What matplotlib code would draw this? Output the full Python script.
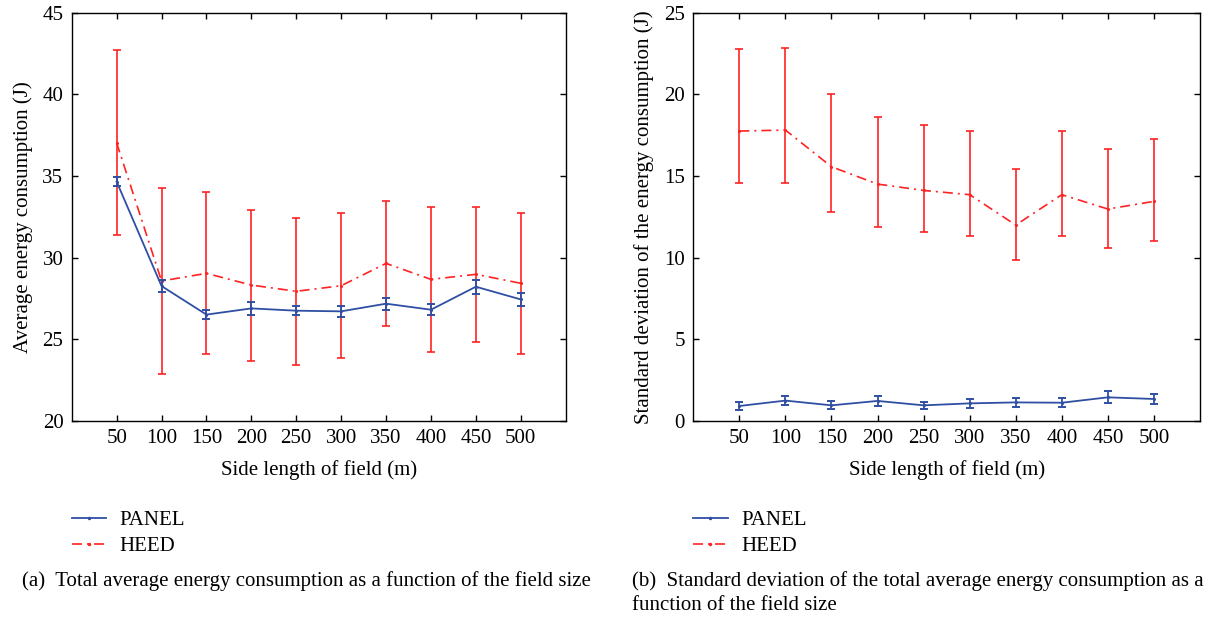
import matplotlib
matplotlib.use("Agg")
import matplotlib.pyplot as plt
from matplotlib.lines import Line2D

plt.rcParams['font.family'] = ['Liberation Serif', 'DejaVu Serif']

field_size = [50, 100, 150, 200, 250, 300, 350, 400, 450, 500]
x_ticks = [50, 100, 150, 200, 250, 300, 350, 400, 450, 500]

# (a) average energy consumption (symmetric error)
panel_avg = [34.65, 28.25, 26.5, 26.88, 26.74, 26.70, 27.17, 26.8, 28.21, 27.43]
panel_avg_err = [0.29, 0.39, 0.28, 0.38, 0.29, 0.34, 0.37, 0.34, 0.44, 0.41]
heed_avg = [37.03, 28.56, 29.03, 28.31, 27.93, 28.27, 29.64, 28.66, 28.97, 28.42]
heed_avg_err = [5.67, 5.69, 4.97, 4.63, 4.52, 4.45, 3.83, 4.43, 4.15, 4.31]

# (b) standard deviation of energy consumption
panel_std = [0.90, 1.23, 0.94, 1.21, 0.94, 1.06, 1.12, 1.10, 1.43, 1.33]
panel_std_err = [0.25, 0.30, 0.25, 0.33, 0.23, 0.28, 0.29, 0.29, 0.36, 0.33]
heed_std = [17.75, 17.81, 15.56, 14.50, 14.11, 13.85, 11.99, 13.85, 12.97, 13.44]
heed_std_low = [14.54, 14.58, 12.79, 11.87, 11.56, 11.34, 9.82, 11.34, 10.60, 11.03]
heed_std_high = [22.79, 22.86, 20.00, 18.61, 18.14, 17.77, 15.40, 17.77, 16.65, 17.28]

BLUE = '#2f4fa3'
RED = '#ff2222'
DASHDOT = (0, (6, 3, 1.2, 3))
FS = 15

fig = plt.figure(figsize=(12.26, 6.19), dpi=100)
ax1 = fig.add_axes([0.0585, 0.3204, 0.4029, 0.659])
ax2 = fig.add_axes([0.5655, 0.3204, 0.4133, 0.659])

def draw(ax, pv, pe, hv, he, ylim, yticks, ylabel):
    ax.errorbar(field_size, hv, yerr=he, color=RED, lw=1.2, ls=DASHDOT,
                capsize=3, capthick=1.2, elinewidth=1.2, marker='.', markersize=2.5, zorder=2)
    ax.errorbar(field_size, pv, yerr=pe, color=BLUE, lw=1.3, ls='-',
                capsize=3, capthick=1.4, elinewidth=1.3, marker='.', markersize=2.5, zorder=3)
    ax.set_xlim(0, 550)
    ax.set_ylim(*ylim)
    ax.set_xticks(x_ticks)
    ax.set_yticks(yticks)
    ax.tick_params(direction='in', top=True, right=True, length=4, width=1,
                   labelsize=FS, pad=6)
    for s in ax.spines.values():
        s.set_linewidth(1.0)
    ax.set_xlabel('Side length of field (m)', fontsize=FS, labelpad=9)
    ax.set_ylabel(ylabel, fontsize=FS, labelpad=7)
    handles = [Line2D([0], [0], color=BLUE, lw=1.3, ls='-', marker='.', markersize=3),
               Line2D([0], [0], color=RED, lw=1.2, ls=DASHDOT, marker='.', markersize=3)]
    ax.legend(handles, ['PANEL', 'HEED'], loc='upper left',
              bbox_to_anchor=(0.0, -0.22), frameon=False, fontsize=FS,
              handlelength=1.65, handletextpad=0.65, labelspacing=0.3,
              numpoints=1, borderaxespad=0, borderpad=0)

heed_std_err = [[v - lo for v, lo in zip(heed_std, heed_std_low)],
                [hi - v for v, hi in zip(heed_std, heed_std_high)]]

draw(ax1, panel_avg, panel_avg_err, heed_avg, heed_avg_err, (20, 45),
     [20, 25, 30, 35, 40, 45], 'Average energy consumption (J)')
draw(ax2, panel_std, panel_std_err, heed_std, heed_std_err, (0, 25),
     [0, 5, 10, 15, 20, 25], 'Standard deviation of the energy consumption (J)')

fig.text(22 / 1226, 1 - 581 / 619,
         '(a)  Total average energy consumption as a function of the field size',
         fontsize=FS, va='center', ha='left')
fig.text(632 / 1226, 1 - 581 / 619,
         '(b)  Standard deviation of the total average energy consumption as a',
         fontsize=FS, va='center', ha='left')
fig.text(632 / 1226, 1 - 606 / 619, 'function of the field size',
         fontsize=FS, va='center', ha='left')

fig.savefig('out.png', dpi=100)
